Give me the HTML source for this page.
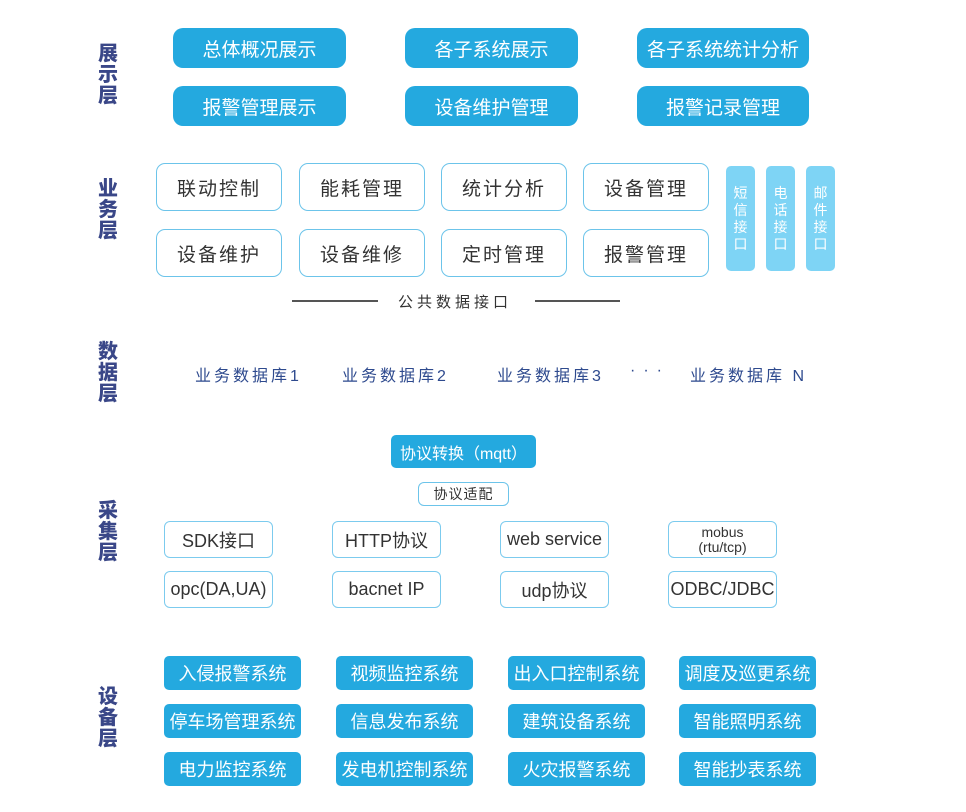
<!DOCTYPE html>
<html><head><meta charset="utf-8"><style>
body{margin:0;width:966px;height:812px;background:#fff;position:relative;overflow:hidden;font-family:"Liberation Sans","Noto Sans CJK SC",sans-serif}
.a{position:absolute;box-sizing:border-box;display:flex;align-items:center;justify-content:center;text-align:center}
.lab{position:absolute;left:97px;width:22px;font-size:20px;line-height:21px;font-weight:900;color:#3a4788;text-align:center}
.d{background:#24a9df;color:#fff;border-radius:10px;font-size:19px}
.b{border:1.5px solid #6cc4ea;border-radius:9px;color:#333;font-size:19px;letter-spacing:2px}
.s{background:#7ed4f5;color:#fff;border-radius:5px;font-size:14px;line-height:17px;width:29px;top:166px;height:105px}
.db{position:absolute;top:362px;color:#2e4a8e;font-size:16px;letter-spacing:3px}
.c{border:1.5px solid #7ccbee;border-radius:6px;color:#333;font-size:18px;width:109px;height:37px}
.e{background:#24a9df;color:#fff;border-radius:5px;font-size:18px;width:137px;height:34px}
</style></head><body>
<div class="lab" style="top:44px">展<br>示<br>层</div>
<div class="lab" style="top:179px">业<br>务<br>层</div>
<div class="lab" style="top:342px">数<br>据<br>层</div>
<div class="lab" style="top:501px">采<br>集<br>层</div>
<div class="lab" style="top:687px">设<br>备<br>层</div>

<div class="a d" style="left:173px;top:28px;width:173px;height:40px">总体概况展示</div>
<div class="a d" style="left:405px;top:28px;width:173px;height:40px">各子系统展示</div>
<div class="a d" style="left:637px;top:28px;width:172px;height:40px">各子系统统计分析</div>
<div class="a d" style="left:173px;top:86px;width:173px;height:40px">报警管理展示</div>
<div class="a d" style="left:405px;top:86px;width:173px;height:40px">设备维护管理</div>
<div class="a d" style="left:637px;top:86px;width:172px;height:40px">报警记录管理</div>

<div class="a b" style="left:156px;top:163px;width:126px;height:48px">联动控制</div>
<div class="a b" style="left:299px;top:163px;width:126px;height:48px">能耗管理</div>
<div class="a b" style="left:441px;top:163px;width:126px;height:48px">统计分析</div>
<div class="a b" style="left:583px;top:163px;width:126px;height:48px">设备管理</div>
<div class="a b" style="left:156px;top:229px;width:126px;height:48px">设备维护</div>
<div class="a b" style="left:299px;top:229px;width:126px;height:48px">设备维修</div>
<div class="a b" style="left:441px;top:229px;width:126px;height:48px">定时管理</div>
<div class="a b" style="left:583px;top:229px;width:126px;height:48px">报警管理</div>
<div class="a s" style="left:726px">短<br>信<br>接<br>口</div>
<div class="a s" style="left:766px">电<br>话<br>接<br>口</div>
<div class="a s" style="left:806px">邮<br>件<br>接<br>口</div>

<div style="position:absolute;left:292px;top:300px;width:86px;height:1.5px;background:#555"></div>
<div style="position:absolute;left:535px;top:300px;width:85px;height:1.5px;background:#555"></div>
<div style="position:absolute;left:398px;top:291px;font-size:15px;color:#333;letter-spacing:4px">公共数据接口</div>

<div class="db" style="left:195px">业务数据库1</div>
<div class="db" style="left:342px">业务数据库2</div>
<div class="db" style="left:497px">业务数据库3</div>
<div class="db" style="left:630px;letter-spacing:8px">···</div>
<div class="db" style="left:690px">业务数据库 N</div>

<div class="a d" style="left:391px;top:435px;width:145px;height:33px;border-radius:5px;font-size:16px">协议转换（mqtt）</div>
<div class="a" style="left:418px;top:482px;width:91px;height:24px;border:1.5px solid #6cc4ea;border-radius:6px;font-size:14px;color:#333;letter-spacing:1px">协议适配</div>

<div class="a c" style="left:164px;top:521px">SDK接口</div>
<div class="a c" style="left:332px;top:521px">HTTP协议</div>
<div class="a c" style="left:500px;top:521px">web service</div>
<div class="a c" style="left:668px;top:521px;font-size:14px;line-height:15px">mobus<br>(rtu/tcp)</div>
<div class="a c" style="left:164px;top:571px">opc(DA,UA)</div>
<div class="a c" style="left:332px;top:571px">bacnet IP</div>
<div class="a c" style="left:500px;top:571px">udp协议</div>
<div class="a c" style="left:668px;top:571px">ODBC/JDBC</div>

<div class="a e" style="left:164px;top:656px">入侵报警系统</div>
<div class="a e" style="left:336px;top:656px">视频监控系统</div>
<div class="a e" style="left:508px;top:656px">出入口控制系统</div>
<div class="a e" style="left:679px;top:656px">调度及巡更系统</div>
<div class="a e" style="left:164px;top:704px">停车场管理系统</div>
<div class="a e" style="left:336px;top:704px">信息发布系统</div>
<div class="a e" style="left:508px;top:704px">建筑设备系统</div>
<div class="a e" style="left:679px;top:704px">智能照明系统</div>
<div class="a e" style="left:164px;top:752px">电力监控系统</div>
<div class="a e" style="left:336px;top:752px">发电机控制系统</div>
<div class="a e" style="left:508px;top:752px">火灾报警系统</div>
<div class="a e" style="left:679px;top:752px">智能抄表系统</div>
</body></html>
